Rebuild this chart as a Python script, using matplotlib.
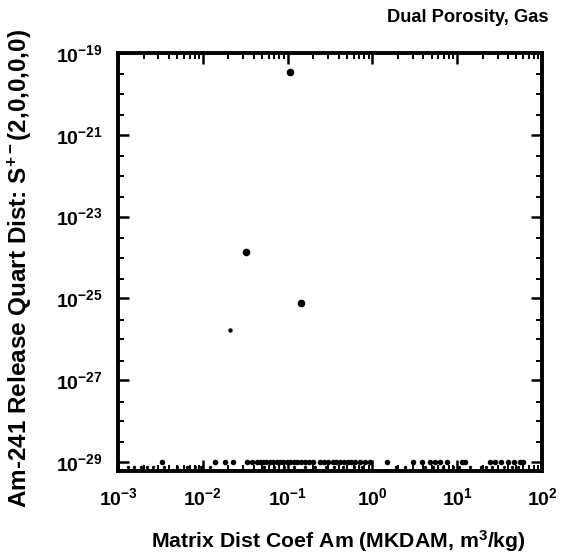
import numpy as np
import matplotlib
matplotlib.use("Agg")
import matplotlib.pyplot as plt
from matplotlib.ticker import LogLocator, NullFormatter

plt.rcParams['font.family'] = ['Liberation Sans', 'DejaVu Sans']
plt.rcParams['font.weight'] = 'bold'
plt.rcParams['mathtext.fontset'] = 'custom'
plt.rcParams['mathtext.rm'] = 'Liberation Sans:bold'
plt.rcParams['mathtext.it'] = 'Liberation Sans:bold'
plt.rcParams['mathtext.bf'] = 'Liberation Sans:bold'
plt.rcParams['mathtext.default'] = 'bf'

# Sampled runs with a measurable release
mkdam_hi = [0.107, 0.032, 0.144]
release_hi = [3.4e-20, 1.4e-24, 7.9e-26]
mkdam_small = [0.021]
release_small = [1.7e-26]

# Runs at the release floor (1e-29)
mkdam_floor = [0.0033, 0.0139, 0.0182, 0.0229, 0.0331, 0.038, 0.043, 0.047, 0.051,
               0.056, 0.062, 0.068, 0.074, 0.081, 0.089, 0.098, 0.107, 0.118,
               0.13, 0.145, 0.16, 0.178, 0.20, 0.24, 0.27, 0.30, 0.34, 0.37,
               0.42, 0.46, 0.51, 0.56, 0.62, 0.72, 0.82, 0.93, 1.5, 3.0, 3.85,
               4.8, 5.5, 6.3, 7.6, 11.5, 12.3, 24.5, 28.0, 33.0, 40.0, 47.0,
               55.0, 60.0]
release_floor = [1e-29] * len(mkdam_floor)

mkdam_floor_low = [0.00132, 0.00155, 0.00185, 0.0022, 0.0026, 0.0035, 0.005,
                   0.0065, 0.008, 0.0095, 0.012, 0.053, 0.07, 0.09, 0.12, 0.16,
                   0.21, 0.28, 0.35, 0.45, 0.6, 0.75, 1.9, 2.4, 4.2, 5.2, 6.8,
                   9.0, 10.5, 14.0, 19.0, 22.0, 26.0, 36.0, 44.0, 52.0]
release_floor_low = [7.6e-30] * len(mkdam_floor_low)

x_ticks = [1e-3, 1e-2, 1e-1, 1e0, 1e1, 1e2]
x_tick_labels = [r'$10^{-3}$', r'$10^{-2}$', r'$10^{-1}$', r'$10^{0}$', r'$10^{1}$', r'$10^{2}$']
y_ticks = [1e-29, 1e-27, 1e-25, 1e-23, 1e-21, 1e-19]
y_tick_labels = [r'$10^{-29}$', r'$10^{-27}$', r'$10^{-25}$', r'$10^{-23}$', r'$10^{-21}$', r'$10^{-19}$']

fig = plt.figure(figsize=(5.63, 5.57), dpi=100)
ax = fig.add_axes([118 / 563, 1 - 471 / 557, (542 - 118) / 563, (471 - 53) / 557])

ax.scatter(mkdam_hi, release_hi, s=30, c='black', marker='o', linewidths=0, zorder=3)
ax.scatter(mkdam_small, release_small, s=10, c='black', marker='o', linewidths=0, zorder=3)
ax.scatter(mkdam_floor, release_floor, s=16, c='black', marker='o', linewidths=0,
           zorder=3, clip_on=False)
ax.scatter(mkdam_floor_low, release_floor_low, s=6, c='black', marker='o', linewidths=0,
           zorder=3, clip_on=False)

ax.set_xscale('log')
ax.set_yscale('log')
ax.set_xlim(1e-3, 1e2)
ax.set_ylim(10 ** -29.22, 1e-19)

ax.set_xticks(x_ticks)
ax.set_xticklabels(x_tick_labels)
ax.set_yticks(y_ticks)
ax.set_yticklabels(y_tick_labels)
ax.xaxis.set_minor_locator(LogLocator(base=10, subs=np.arange(2, 10), numticks=50))
ax.xaxis.set_minor_formatter(NullFormatter())
ax.yaxis.set_minor_locator(LogLocator(base=10, subs=(1.0, 3.0), numticks=50))
ax.yaxis.set_minor_formatter(NullFormatter())

for s in ax.spines.values():
    s.set_linewidth(2.8)
ax.tick_params(which='major', direction='in', length=8, width=1.8,
               top=True, right=True, labelsize=14, pad=12)
ax.tick_params(which='minor', direction='in', length=4, width=1.4,
               top=True, right=True)
ax.tick_params(axis='y', which='major', pad=11)

ax.set_xlabel(r'Matrix Dist Coef Am (MKDAM, m$^3$/kg)', fontsize=15.3, fontweight='bold')
ax.xaxis.set_label_coords((338 - 118) / 424, (471 - 541) / 418)
ax.xaxis.label.set_va('center')
ax.set_ylabel(r'Am-241 Release Quart Dist: S$^{+-}$(2,0,0,0,0)', fontsize=17.5,
              fontweight='bold')
ax.yaxis.set_label_coords((20 - 118) / 424, (471 - 268) / 418)
ax.yaxis.label.set_va('center')

fig.text(549 / 563, 1 - 18 / 557, 'Dual Porosity, Gas', ha='right', va='center',
         fontsize=13.2, fontweight='bold')

fig.savefig('out.png', dpi=100)
